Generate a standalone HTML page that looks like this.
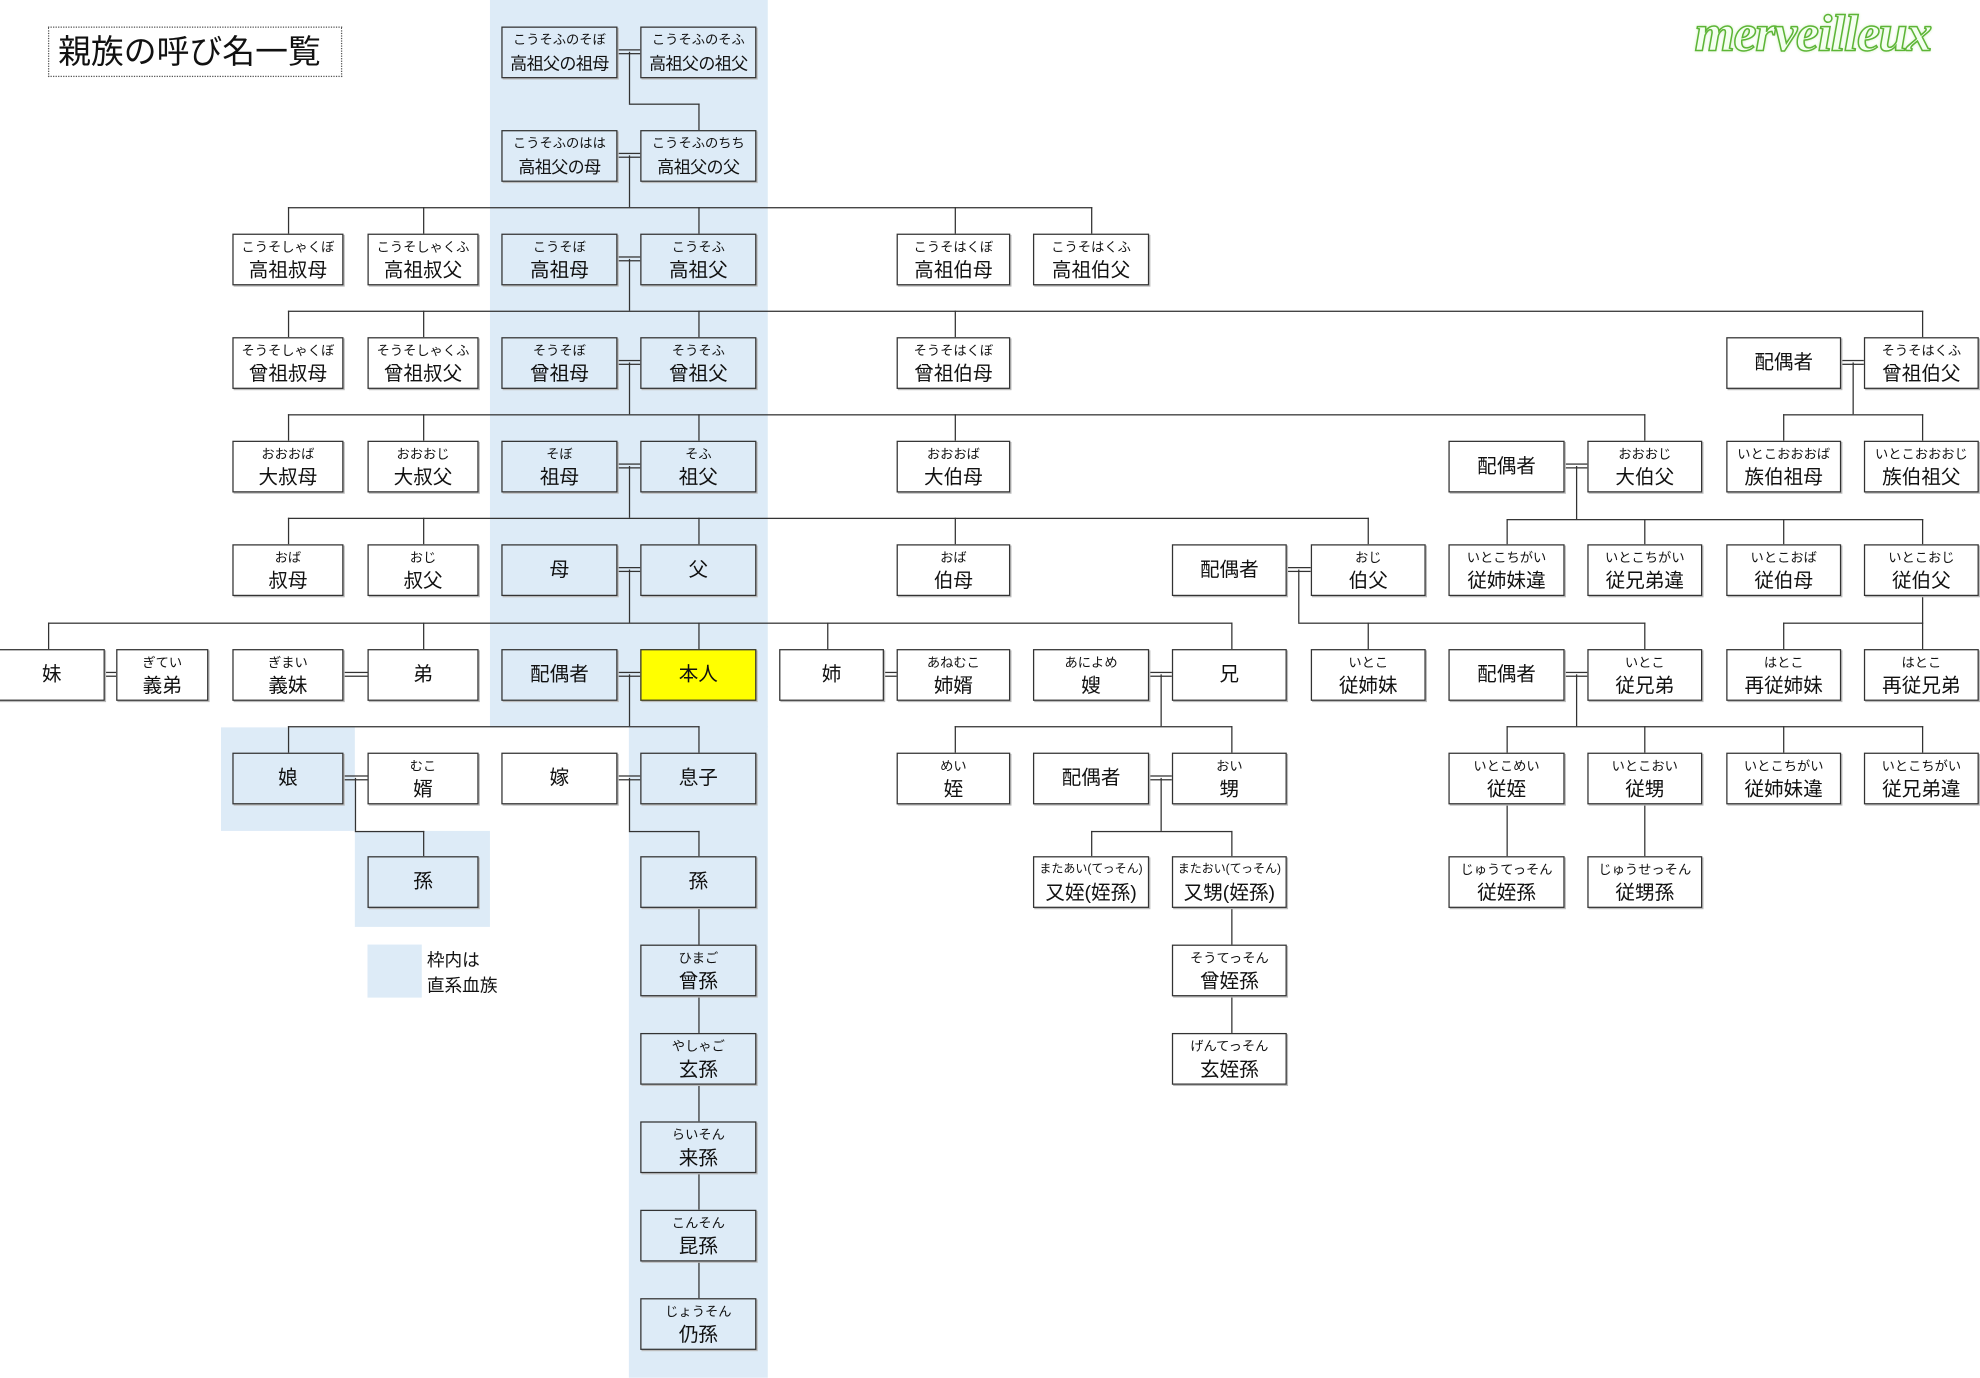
<!DOCTYPE html>
<html><head><meta charset="utf-8"><style>
html,body{margin:0;padding:0;background:#fff;}
body{width:1980px;height:1378px;overflow:hidden;position:relative;}
#c{position:absolute;left:0;top:0;width:1568px;height:1091px;transform:scale(1.2628);transform-origin:0 0;font-family:"Liberation Sans","Noto Sans CJK JP",sans-serif;color:#111;}
.sh{position:absolute;background:#ddebf7;}
.b{position:absolute;height:41px;box-sizing:border-box;border:1px solid #333;text-align:center;background:#fff;box-shadow:1px 1px 0 #bbb;overflow:hidden;white-space:nowrap;}
.bl{background:#ddebf7;}
.y{background:#ffff00;}
.b i{display:block;font-style:normal;font-size:10.5px;line-height:12px;margin-top:4px;}
.b b{display:block;font-weight:normal;font-size:15.5px;line-height:26px;}
.b.s{line-height:39px;font-size:15.5px;}
.h{position:absolute;height:1px;background:#333;}
.v{position:absolute;width:1px;background:#333;}
.b b.t{font-size:13.5px;letter-spacing:-0.5px;}
</style></head><body><div id="c">
<div class="sh" style="left:388px;top:0;width:220px;height:576px"></div>
<div class="sh" style="left:498px;top:575px;width:110px;height:516px"></div>
<div class="sh" style="left:175px;top:576px;width:106px;height:82px"></div>
<div class="sh" style="left:281px;top:658px;width:107px;height:76px"></div>
<div class="sh" style="left:291px;top:748px;width:43px;height:42px"></div>
<div style="position:absolute;left:338px;top:750px;font-size:14px;line-height:20px">枠内は<br>直系血族</div>
<div style="position:absolute;left:38px;top:21px;width:233px;height:40px;box-sizing:border-box;border:1px dotted #555;font-size:26px;line-height:38px;padding-left:7px;white-space:nowrap">親族の呼び名一覧</div>
<div style="position:absolute;left:1342px;top:2px;font-family:'Liberation Serif',serif;font-weight:bold;font-style:italic;font-size:41px;color:#f4fff0;-webkit-text-stroke:1.2px #5db536;text-shadow:0 0 3px #b5e39c;letter-spacing:-1px">merveilleux</div>

<div class="v" style="left:498px;top:41px;height:41px"></div><div class="h" style="left:498px;top:82px;width:56px"></div><div class="v" style="left:553px;top:82px;height:21px"></div>
<div class="v" style="left:498px;top:123px;height:41px"></div><div class="h" style="left:228px;top:164px;width:637px"></div>
<div class="v" style="left:228px;top:164px;height:21px"></div><div class="v" style="left:335px;top:164px;height:21px"></div><div class="v" style="left:553px;top:164px;height:21px"></div><div class="v" style="left:756px;top:164px;height:21px"></div><div class="v" style="left:864px;top:164px;height:21px"></div>
<div class="v" style="left:498px;top:205px;height:41px"></div><div class="h" style="left:228px;top:246px;width:1295px"></div>
<div class="v" style="left:228px;top:246px;height:21px"></div><div class="v" style="left:335px;top:246px;height:21px"></div><div class="v" style="left:553px;top:246px;height:21px"></div><div class="v" style="left:756px;top:246px;height:21px"></div><div class="v" style="left:1522px;top:246px;height:21px"></div>
<div class="v" style="left:498px;top:287px;height:41px"></div><div class="h" style="left:228px;top:328px;width:1075px"></div>
<div class="v" style="left:228px;top:328px;height:21px"></div><div class="v" style="left:335px;top:328px;height:21px"></div><div class="v" style="left:553px;top:328px;height:21px"></div><div class="v" style="left:756px;top:328px;height:21px"></div><div class="v" style="left:1302px;top:328px;height:21px"></div>
<div class="v" style="left:1467px;top:287px;height:41px"></div><div class="h" style="left:1412px;top:328px;width:111px"></div><div class="v" style="left:1412px;top:328px;height:21px"></div><div class="v" style="left:1522px;top:328px;height:21px"></div>
<div class="v" style="left:498px;top:369px;height:41px"></div><div class="h" style="left:228px;top:410px;width:856px"></div>
<div class="v" style="left:228px;top:410px;height:21px"></div><div class="v" style="left:335px;top:410px;height:21px"></div><div class="v" style="left:553px;top:410px;height:21px"></div><div class="v" style="left:756px;top:410px;height:21px"></div><div class="v" style="left:1083px;top:410px;height:21px"></div>
<div class="v" style="left:1248px;top:369px;height:42px"></div><div class="h" style="left:1193px;top:411px;width:330px"></div>
<div class="v" style="left:1193px;top:411px;height:20px"></div><div class="v" style="left:1302px;top:411px;height:20px"></div><div class="v" style="left:1412px;top:411px;height:20px"></div><div class="v" style="left:1522px;top:411px;height:20px"></div>
<div class="v" style="left:498px;top:451px;height:42px"></div><div class="h" style="left:38px;top:493px;width:938px"></div>
<div class="v" style="left:38px;top:493px;height:21px"></div><div class="v" style="left:335px;top:493px;height:21px"></div><div class="v" style="left:553px;top:493px;height:21px"></div><div class="v" style="left:655px;top:493px;height:21px"></div><div class="v" style="left:975px;top:493px;height:21px"></div>
<div class="v" style="left:1028px;top:451px;height:42px"></div><div class="h" style="left:1028px;top:493px;width:275px"></div><div class="v" style="left:1083px;top:493px;height:21px"></div><div class="v" style="left:1302px;top:493px;height:21px"></div>
<div class="v" style="left:1522px;top:472px;height:21px"></div><div class="h" style="left:1412px;top:493px;width:111px"></div><div class="v" style="left:1412px;top:493px;height:21px"></div><div class="v" style="left:1522px;top:493px;height:21px"></div>
<div class="v" style="left:498px;top:534px;height:41px"></div><div class="h" style="left:228px;top:575px;width:326px"></div><div class="v" style="left:228px;top:575px;height:21px"></div><div class="v" style="left:553px;top:575px;height:21px"></div>
<div class="v" style="left:919px;top:534px;height:41px"></div><div class="h" style="left:756px;top:575px;width:220px"></div><div class="v" style="left:756px;top:575px;height:21px"></div><div class="v" style="left:975px;top:575px;height:21px"></div>
<div class="v" style="left:1248px;top:534px;height:41px"></div><div class="h" style="left:1193px;top:575px;width:330px"></div>
<div class="v" style="left:1193px;top:575px;height:21px"></div><div class="v" style="left:1302px;top:575px;height:21px"></div><div class="v" style="left:1412px;top:575px;height:21px"></div><div class="v" style="left:1522px;top:575px;height:21px"></div>
<div class="v" style="left:281px;top:616px;height:42px"></div><div class="h" style="left:281px;top:658px;width:55px"></div><div class="v" style="left:335px;top:658px;height:20px"></div>
<div class="v" style="left:498px;top:616px;height:42px"></div><div class="h" style="left:498px;top:658px;width:56px"></div><div class="v" style="left:553px;top:658px;height:20px"></div>
<div class="v" style="left:919px;top:616px;height:42px"></div><div class="h" style="left:864px;top:658px;width:112px"></div><div class="v" style="left:864px;top:658px;height:20px"></div><div class="v" style="left:975px;top:658px;height:20px"></div>
<div class="v" style="left:553px;top:719px;height:29px"></div><div class="v" style="left:553px;top:789px;height:29px"></div><div class="v" style="left:553px;top:859px;height:29px"></div><div class="v" style="left:553px;top:929px;height:29px"></div><div class="v" style="left:553px;top:999px;height:29px"></div>
<div class="v" style="left:975px;top:719px;height:29px"></div><div class="v" style="left:975px;top:789px;height:29px"></div>
<div class="v" style="left:1193px;top:637px;height:41px"></div><div class="v" style="left:1302px;top:637px;height:41px"></div>
<div class="h" style="left:489px;top:39px;width:18px"></div><div class="h" style="left:489px;top:42px;width:18px"></div>
<div class="h" style="left:489px;top:121px;width:18px"></div><div class="h" style="left:489px;top:124px;width:18px"></div>
<div class="h" style="left:489px;top:203px;width:18px"></div><div class="h" style="left:489px;top:206px;width:18px"></div>
<div class="h" style="left:489px;top:285px;width:18px"></div><div class="h" style="left:489px;top:288px;width:18px"></div>
<div class="h" style="left:489px;top:367px;width:18px"></div><div class="h" style="left:489px;top:370px;width:18px"></div>
<div class="h" style="left:489px;top:449px;width:18px"></div><div class="h" style="left:489px;top:452px;width:18px"></div>
<div class="h" style="left:489px;top:532px;width:18px"></div><div class="h" style="left:489px;top:535px;width:18px"></div>
<div class="h" style="left:489px;top:614px;width:18px"></div><div class="h" style="left:489px;top:617px;width:18px"></div>
<div class="h" style="left:1458px;top:285px;width:18px"></div><div class="h" style="left:1458px;top:288px;width:18px"></div>
<div class="h" style="left:1239px;top:367px;width:18px"></div><div class="h" style="left:1239px;top:370px;width:18px"></div>
<div class="h" style="left:1019px;top:449px;width:19px"></div><div class="h" style="left:1019px;top:452px;width:19px"></div>
<div class="h" style="left:83px;top:532px;width:9px"></div><div class="h" style="left:83px;top:535px;width:9px"></div>
<div class="h" style="left:272px;top:532px;width:19px"></div><div class="h" style="left:272px;top:535px;width:19px"></div>
<div class="h" style="left:700px;top:532px;width:10px"></div><div class="h" style="left:700px;top:535px;width:10px"></div>
<div class="h" style="left:910px;top:532px;width:18px"></div><div class="h" style="left:910px;top:535px;width:18px"></div>
<div class="h" style="left:1239px;top:532px;width:18px"></div><div class="h" style="left:1239px;top:535px;width:18px"></div>
<div class="h" style="left:272px;top:614px;width:19px"></div><div class="h" style="left:272px;top:617px;width:19px"></div>
<div class="h" style="left:910px;top:614px;width:18px"></div><div class="h" style="left:910px;top:617px;width:18px"></div>

<div class="b bl" style="left:397px;top:21px;width:92px"><i>こうそふのそぼ</i><b class="t">高祖父の祖母</b></div>
<div class="b bl" style="left:507px;top:21px;width:92px"><i>こうそふのそふ</i><b class="t">高祖父の祖父</b></div>
<div class="b bl" style="left:397px;top:103px;width:92px"><i>こうそふのはは</i><b class="t">高祖父の母</b></div>
<div class="b bl" style="left:507px;top:103px;width:92px"><i>こうそふのちち</i><b class="t">高祖父の父</b></div>
<div class="b" style="left:184px;top:185px;width:88px"><i>こうそしゃくぼ</i><b>高祖叔母</b></div>
<div class="b" style="left:291px;top:185px;width:88px"><i>こうそしゃくふ</i><b>高祖叔父</b></div>
<div class="b bl" style="left:397px;top:185px;width:92px"><i>こうそぼ</i><b>高祖母</b></div>
<div class="b bl" style="left:507px;top:185px;width:92px"><i>こうそふ</i><b>高祖父</b></div>
<div class="b" style="left:710px;top:185px;width:90px"><i>こうそはくぼ</i><b>高祖伯母</b></div>
<div class="b" style="left:818px;top:185px;width:92px"><i>こうそはくふ</i><b>高祖伯父</b></div>
<div class="b" style="left:184px;top:267px;width:88px"><i>そうそしゃくぼ</i><b>曾祖叔母</b></div>
<div class="b" style="left:291px;top:267px;width:88px"><i>そうそしゃくふ</i><b>曾祖叔父</b></div>
<div class="b bl" style="left:397px;top:267px;width:92px"><i>そうそぼ</i><b>曾祖母</b></div>
<div class="b bl" style="left:507px;top:267px;width:92px"><i>そうそふ</i><b>曾祖父</b></div>
<div class="b" style="left:710px;top:267px;width:90px"><i>そうそはくぼ</i><b>曾祖伯母</b></div>
<div class="b s" style="left:1367px;top:267px;width:91px">配偶者</div>
<div class="b" style="left:1476px;top:267px;width:91px"><i>そうそはくふ</i><b>曾祖伯父</b></div>
<div class="b" style="left:184px;top:349px;width:88px"><i>おおおば</i><b>大叔母</b></div>
<div class="b" style="left:291px;top:349px;width:88px"><i>おおおじ</i><b>大叔父</b></div>
<div class="b bl" style="left:397px;top:349px;width:92px"><i>そぼ</i><b>祖母</b></div>
<div class="b bl" style="left:507px;top:349px;width:92px"><i>そふ</i><b>祖父</b></div>
<div class="b" style="left:710px;top:349px;width:90px"><i>おおおば</i><b>大伯母</b></div>
<div class="b s" style="left:1147px;top:349px;width:92px">配偶者</div>
<div class="b" style="left:1257px;top:349px;width:91px"><i>おおおじ</i><b>大伯父</b></div>
<div class="b" style="left:1367px;top:349px;width:91px"><i>いとこおおおば</i><b>族伯祖母</b></div>
<div class="b" style="left:1476px;top:349px;width:91px"><i>いとこおおおじ</i><b>族伯祖父</b></div>
<div class="b" style="left:184px;top:431px;width:88px"><i>おば</i><b>叔母</b></div>
<div class="b" style="left:291px;top:431px;width:88px"><i>おじ</i><b>叔父</b></div>
<div class="b bl s" style="left:397px;top:431px;width:92px">母</div>
<div class="b bl s" style="left:507px;top:431px;width:92px">父</div>
<div class="b" style="left:710px;top:431px;width:90px"><i>おば</i><b>伯母</b></div>
<div class="b s" style="left:928px;top:431px;width:91px">配偶者</div>
<div class="b" style="left:1038px;top:431px;width:91px"><i>おじ</i><b>伯父</b></div>
<div class="b" style="left:1147px;top:431px;width:92px"><i>いとこちがい</i><b>従姉妹違</b></div>
<div class="b" style="left:1257px;top:431px;width:91px"><i>いとこちがい</i><b>従兄弟違</b></div>
<div class="b" style="left:1367px;top:431px;width:91px"><i>いとこおば</i><b>従伯母</b></div>
<div class="b" style="left:1476px;top:431px;width:91px"><i>いとこおじ</i><b>従伯父</b></div>
<div class="b s" style="left:-1px;top:514px;width:84px">妹</div>
<div class="b" style="left:92px;top:514px;width:73px"><i>ぎてい</i><b>義弟</b></div>
<div class="b" style="left:184px;top:514px;width:88px"><i>ぎまい</i><b>義妹</b></div>
<div class="b s" style="left:291px;top:514px;width:88px">弟</div>
<div class="b bl s" style="left:397px;top:514px;width:92px">配偶者</div>
<div class="b y s" style="left:507px;top:514px;width:92px">本人</div>
<div class="b s" style="left:617px;top:514px;width:83px">姉</div>
<div class="b" style="left:710px;top:514px;width:90px"><i>あねむこ</i><b>姉婿</b></div>
<div class="b" style="left:818px;top:514px;width:92px"><i>あによめ</i><b>嫂</b></div>
<div class="b s" style="left:928px;top:514px;width:91px">兄</div>
<div class="b" style="left:1038px;top:514px;width:91px"><i>いとこ</i><b>従姉妹</b></div>
<div class="b s" style="left:1147px;top:514px;width:92px">配偶者</div>
<div class="b" style="left:1257px;top:514px;width:91px"><i>いとこ</i><b>従兄弟</b></div>
<div class="b" style="left:1367px;top:514px;width:91px"><i>はとこ</i><b>再従姉妹</b></div>
<div class="b" style="left:1476px;top:514px;width:91px"><i>はとこ</i><b>再従兄弟</b></div>
<div class="b bl s" style="left:184px;top:596px;width:88px">娘</div>
<div class="b" style="left:291px;top:596px;width:88px"><i>むこ</i><b>婿</b></div>
<div class="b s" style="left:397px;top:596px;width:92px">嫁</div>
<div class="b bl s" style="left:507px;top:596px;width:92px">息子</div>
<div class="b" style="left:710px;top:596px;width:90px"><i>めい</i><b>姪</b></div>
<div class="b s" style="left:818px;top:596px;width:92px">配偶者</div>
<div class="b" style="left:928px;top:596px;width:91px"><i>おい</i><b>甥</b></div>
<div class="b" style="left:1147px;top:596px;width:92px"><i>いとこめい</i><b>従姪</b></div>
<div class="b" style="left:1257px;top:596px;width:91px"><i>いとこおい</i><b>従甥</b></div>
<div class="b" style="left:1367px;top:596px;width:91px"><i>いとこちがい</i><b>従姉妹違</b></div>
<div class="b" style="left:1476px;top:596px;width:91px"><i>いとこちがい</i><b>従兄弟違</b></div>
<div class="b bl s" style="left:291px;top:678px;width:88px">孫</div>
<div class="b bl s" style="left:507px;top:678px;width:92px">孫</div>
<div class="b" style="left:818px;top:678px;width:92px"><i style="font-size:9.5px">またあい(てっそん)</i><b>又姪(姪孫)</b></div>
<div class="b" style="left:928px;top:678px;width:91px"><i style="font-size:9.5px">またおい(てっそん)</i><b>又甥(姪孫)</b></div>
<div class="b" style="left:1147px;top:678px;width:92px"><i>じゅうてっそん</i><b>従姪孫</b></div>
<div class="b" style="left:1257px;top:678px;width:91px"><i>じゅうせっそん</i><b>従甥孫</b></div>
<div class="b bl" style="left:507px;top:748px;width:92px"><i>ひまご</i><b>曾孫</b></div>
<div class="b" style="left:928px;top:748px;width:91px"><i>そうてっそん</i><b>曾姪孫</b></div>
<div class="b bl" style="left:507px;top:818px;width:92px"><i>やしゃご</i><b>玄孫</b></div>
<div class="b" style="left:928px;top:818px;width:91px"><i>げんてっそん</i><b>玄姪孫</b></div>
<div class="b bl" style="left:507px;top:888px;width:92px"><i>らいそん</i><b>来孫</b></div>
<div class="b bl" style="left:507px;top:958px;width:92px"><i>こんそん</i><b>昆孫</b></div>
<div class="b bl" style="left:507px;top:1028px;width:92px"><i>じょうそん</i><b>仍孫</b></div>
</div></body></html>
